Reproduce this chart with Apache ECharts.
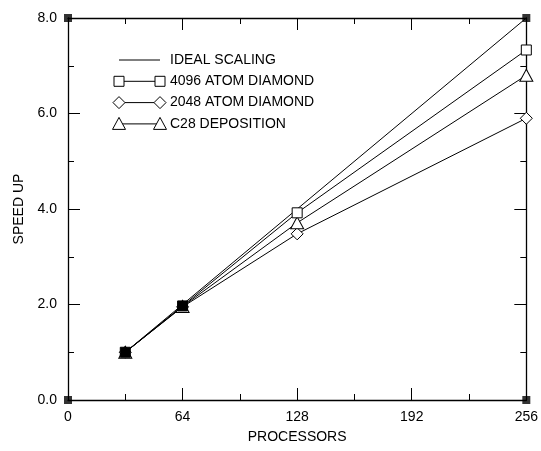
<!DOCTYPE html>
<html>
<head>
<meta charset="utf-8">
<script src="https://cdn.jsdelivr.net/npm/echarts@6/dist/echarts.min.js"></script>
<style>html,body{margin:0;padding:0;background:#fff}#c{width:541px;height:451px}</style>
</head>
<body>
<div id="c"></div>
<script>
var processors = [32, 64, 128, 256];
var ideal = [1, 2, 4, 8];
var atom4096 = [1, 1.97, 3.92, 7.33];
var atom2048 = [1, 1.95, 3.48, 5.9];
var c28 = [1, 1.96, 3.71, 6.8];
var corners = [[0, 0], [0, 8], [256, 0], [256, 8]];
var xTicks = [0, 64, 128, 192, 256];
var legendNames = ['IDEAL SCALING', '4096 ATOM DIAMOND', '2048 ATOM DIAMOND', 'C28 DEPOSITION'];

var FONT = 'Liberation Sans';
var FS = 14;
function pairs(vals, filledFirst) {
  return processors.map(function (p, i) {
    if (filledFirst && i < 2) return { value: [p, vals[i]], itemStyle: { color: '#000' } };
    return [p, vals[i]];
  });
}
var openStyle = { color: '#fff', borderColor: '#000', borderWidth: 1 };
var lineStyle = { color: '#000', width: 1 };

// legend drawn as graphic: line with marker at both ends
var LG = { x0: 119, x1: 160, tx: 170, y0: 60, dy: 21.3 };
function marker(kind, cx, cy) {
  var s = { fill: '#fff', stroke: '#000', lineWidth: 1 };
  if (kind === 'rect') return { type: 'rect', shape: { x: cx - 5, y: cy - 5, width: 10, height: 10 }, style: s, z: 10 };
  if (kind === 'diamond') return { type: 'polygon', shape: { points: [[cx, cy - 6], [cx + 6, cy], [cx, cy + 6], [cx - 6, cy]] }, style: s, z: 10 };
  return { type: 'polygon', shape: { points: [[cx, cy - 6.5], [cx + 6.5, cy + 5.5], [cx - 6.5, cy + 5.5]] }, style: s, z: 10 };
}
var kinds = [null, 'rect', 'diamond', 'triangle'];
var graphics = [];
legendNames.forEach(function (nm, i) {
  var y = LG.y0 + i * LG.dy;
  graphics.push({ type: 'line', shape: { x1: LG.x0, y1: y, x2: LG.x1, y2: y }, style: { stroke: '#000', lineWidth: 1 }, z: 9 });
  if (kinds[i]) { graphics.push(marker(kinds[i], LG.x0, y)); graphics.push(marker(kinds[i], LG.x1, y)); }
  graphics.push({ type: 'text', x: LG.tx, y: y, style: { text: nm, fill: '#000', font: FS + 'px "' + FONT + '"', verticalAlign: 'middle', align: 'left' }, z: 10 });
});

var chart = echarts.init(document.getElementById('c'));
function axisCommon() {
  return {
    axisLine: { show: true, onZero: false, lineStyle: { color: '#000', width: 1.3 } },
    axisTick: { show: true, inside: true, length: 12, lineStyle: { color: '#000', width: 1 } },
    minorTick: { show: true, splitNumber: 2, length: 6, lineStyle: { color: '#000', width: 1 } },
    splitLine: { show: false }
  };
}
chart.setOption({
  animation: false,
  backgroundColor: '#fff',
  textStyle: { fontFamily: FONT },
  grid: { left: 68, right: 14, top: 18, bottom: 51 },
  graphic: graphics,
  xAxis: [
    Object.assign({
      type: 'value', min: 0, max: 256, interval: 64, position: 'bottom',
      name: 'PROCESSORS', nameLocation: 'middle', nameGap: 30,
      nameTextStyle: { fontFamily: FONT, fontSize: FS, color: '#000' },
      axisLabel: { color: '#000', fontSize: FS, fontFamily: FONT, margin: 10, customValues: xTicks }
    }, axisCommon()),
    Object.assign({
      type: 'value', min: 0, max: 256, interval: 64, position: 'top',
      axisLabel: { show: false }
    }, axisCommon())
  ],
  yAxis: [
    Object.assign({
      type: 'value', min: 0, max: 8, interval: 2, position: 'left',
      name: 'SPEED UP', nameLocation: 'middle', nameGap: 42,
      nameTextStyle: { fontFamily: FONT, fontSize: FS, color: '#000' },
      axisLabel: { color: '#000', fontSize: FS, fontFamily: FONT, margin: 11,
        formatter: function (v) { return v.toFixed(1); } }
    }, axisCommon()),
    Object.assign({
      type: 'value', min: 0, max: 8, interval: 2, position: 'right',
      axisLabel: { show: false }
    }, axisCommon())
  ],
  series: [
    { name: legendNames[0], type: 'line', data: pairs(ideal), showSymbol: false, symbol: 'none',
      lineStyle: lineStyle, itemStyle: { color: '#000' }, z: 3 },
    { name: legendNames[2], type: 'line', data: pairs(atom2048), symbol: 'diamond', symbolSize: [12, 12],
      lineStyle: lineStyle, itemStyle: openStyle, z: 4 },
    { name: legendNames[3], type: 'line', data: pairs(c28), symbol: 'triangle', symbolSize: [13, 12],
      lineStyle: lineStyle, itemStyle: openStyle, z: 4 },
    { name: legendNames[1], type: 'line', data: pairs(atom4096, true), symbol: 'rect', symbolSize: 10,
      lineStyle: lineStyle, itemStyle: openStyle, z: 5 },
    { name: 'corners', type: 'scatter', data: corners, symbol: 'rect', symbolSize: 8,
      itemStyle: { color: '#000' }, z: 6, silent: true }
  ]
});
</script>
</body>
</html>
